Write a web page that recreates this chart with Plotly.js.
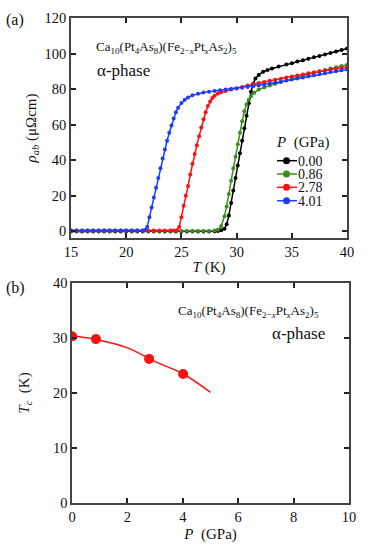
<!DOCTYPE html>
<html>
<head>
<meta charset="utf-8">
<script src="https://cdn.plot.ly/plotly-3.0.1.min.js"></script>
<style>
  body { margin: 0; background: #fff; }
  #plotArea { width: 382px; height: 550px; }
</style>
</head>
<body>
<div id="plotArea"></div>
<script>
// (a) resistivity rho_ab (uOhm cm) vs temperature T (K), four pressures
var pressures = ["0.00", "0.86", "2.78", "4.01"];
var colors = ["#000000", "#3c8c1e", "#ff1010", "#1e3cff"];

var T_000 = [15, 15.5, 16, 16.5, 17, 17.5, 18, 18.5, 19, 19.5, 20, 20.5, 21, 21.5, 22, 22.5, 23, 23.5, 24, 24.5, 25, 25.5, 26, 26.5, 27, 27.5,
  28, 28.3, 28.6, 28.9, 29.1, 29.3, 29.5, 29.7, 29.9, 30.1, 30.3, 30.5, 30.7, 30.9, 31.1, 31.3, 31.5, 31.7, 32, 32.4, 32.8, 33.2, 33.8,
  34.5, 35, 35.5, 36, 36.5, 37, 37.5, 38, 38.5, 39, 39.5, 40];
var rho_000 = [0, 0, 0, 0, 0, 0, 0, 0, 0, 0, 0, 0, 0, 0, 0, 0, 0, 0, 0, 0, 0, 0, 0, 0, 0, 0,
  0.1, 0.3, 0.7, 1.5, 4, 9, 16, 23, 30, 37, 44, 51, 58, 65, 72, 78.5, 83, 86, 88, 89.8, 90.8, 91.6, 92.7,
  93.8, 94.6, 95.5, 96.3, 97.1, 97.9, 98.7, 99.5, 100.3, 101.1, 102, 102.8];

var T_086 = [15, 15.5, 16, 16.5, 17, 17.5, 18, 18.5, 19, 19.5, 20, 20.5, 21, 21.5, 22, 22.5, 23, 23.5, 24, 24.5, 25, 25.5, 26, 26.5, 27, 27.5,
  28, 28.3, 28.6, 28.9, 29.1, 29.3, 29.5, 29.7, 29.9, 30.1, 30.3, 30.5, 30.7, 30.9, 31.1, 31.3, 31.6, 32, 32.5, 33, 33.5, 34, 34.5,
  35, 35.5, 36, 36.5, 37, 37.5, 38, 38.5, 39, 39.5, 40];
var rho_086 = [0.3, 0.3, 0.3, 0.3, 0.3, 0.3, 0.3, 0.3, 0.3, 0.3, 0.3, 0.3, 0.3, 0.3, 0.3, 0.3, 0.3, 0.3, 0.3, 0.3, 0.3, 0.3, 0.3, 0.3, 0.3, 0.3,
  0.5, 1, 3, 8.5, 14, 21, 28.5, 35.5, 42, 49, 55.5, 62, 67.5, 71.5, 74, 76, 78, 79.8, 81, 82, 83, 84, 85,
  86, 86.8, 87.6, 88.4, 89.2, 90, 90.8, 91.6, 92.3, 93, 93.7];

var T_278 = [15, 15.5, 16, 16.5, 17, 17.5, 18, 18.5, 19, 19.5, 20, 20.5, 21, 21.5, 22, 22.5, 23, 23.5, 24, 24.3,
  24.6, 24.8, 25, 25.2, 25.4, 25.6, 25.8, 26, 26.2, 26.4, 26.6, 26.8, 27, 27.2, 27.4, 27.6, 27.8, 28, 28.3, 28.6,
  29, 29.5, 30, 30.5, 31, 31.5, 32, 32.5, 33, 33.5, 34, 34.5, 35, 35.5, 36, 36.5, 37, 37.5, 38, 38.5, 39, 39.5, 40];
var rho_278 = [0.5, 0.5, 0.5, 0.5, 0.5, 0.5, 0.5, 0.5, 0.5, 0.5, 0.5, 0.5, 0.5, 0.5, 0.5, 0.5, 0.5, 0.5, 0.5, 0.5,
  0.7, 2.5, 8, 14.5, 20, 25.5, 32, 38, 43.5, 48.5, 53.5, 58.5, 63, 67, 70.5, 73, 75, 76.3, 77.5, 78.3,
  79, 79.8, 80.5, 81.2, 82, 82.8, 83.5, 84, 84.7, 85.3, 85.9, 86.5, 87.1, 87.7, 88.3, 88.9, 89.5, 90, 90.5, 91, 91.5, 91.9, 92.3];

var T_401 = [15, 15.5, 16, 16.5, 17, 17.5, 18, 18.5, 19, 19.5, 20, 20.5, 21, 21.5,
  21.7, 21.9, 22.1, 22.3, 22.5, 22.7, 22.9, 23.1, 23.3, 23.5, 23.7, 23.9, 24.1, 24.3, 24.5, 24.7, 25, 25.3, 25.6, 26, 26.5,
  27, 27.5, 28, 28.5, 29, 29.5, 30, 30.5, 31, 31.5, 32, 32.5, 33, 33.5, 34, 34.5, 35, 35.5, 36, 36.5, 37, 37.5, 38, 38.5, 39, 39.5, 40];
var rho_401 = [0.5, 0.5, 0.5, 0.5, 0.5, 0.5, 0.5, 0.5, 0.5, 0.5, 0.5, 0.5, 0.5, 0.5,
  0.8, 2.5, 8, 13.5, 19, 24.5, 30, 35.5, 41, 46, 51, 55.5, 59.5, 63.5, 67, 69.5, 72.2, 74, 75.3, 76.5, 77.4,
  78.1, 78.6, 79, 79.4, 79.8, 80.1, 80.4, 80.8, 81.2, 81.6, 82, 82.5, 83, 83.6, 84.2, 84.8, 85.4, 86, 86.6, 87.2, 87.8, 88.4, 89, 89.6, 90.1, 90.6, 91];

// (b) Tc vs pressure
var P_tc = [0, 0.86, 2.78, 4.01];
var Tc = [30.3, 29.8, 26.2, 23.45];
// guide line as drawn in the picture
var P_fit = [0, 1, 2, 3, 4, 5];
var Tc_fit = [30.4, 29.6, 28.2, 25.7, 23.5, 20.1];

var Ts = [T_000, T_086, T_278, T_401];
var rhos = [rho_000, rho_086, rho_278, rho_401];

var data = [];
for (var i = 0; i < 4; i++) {
  data.push({
    x: Ts[i], y: rhos[i],
    type: "scatter", mode: "lines+markers",
    name: pressures[i],
    line: {color: colors[i], width: 1.5},
    marker: {color: colors[i], size: 4},
    showlegend: false,
    xaxis: "x", yaxis: "y"
  });
}
data.push({
  x: P_fit, y: Tc_fit, type: "scatter", mode: "lines",
  line: {color: "#ff1010", width: 1.5, shape: "spline"},
  showlegend: false, xaxis: "x2", yaxis: "y2"
});
data.push({
  x: P_tc, y: Tc, type: "scatter", mode: "markers",
  marker: {color: "#ff1010", size: 10},
  showlegend: false, xaxis: "x2", yaxis: "y2"
});

var serif = "Liberation Serif";
var axisCommon = {
  showline: true, linecolor: "#444", linewidth: 1.5, mirror: "ticks",
  ticks: "inside", ticklen: 5, tickwidth: 1.5, tickcolor: "#222",
  showgrid: false, zeroline: false,
  tickfont: {family: serif, size: 14.5, color: "#111"}
};

var formula = "Ca<sub>10</sub>(Pt<sub>4</sub>As<sub>8</sub>)(Fe<sub>2−<i>x</i></sub>Pt<sub><i>x</i></sub>As<sub>2</sub>)<sub>5</sub>";

// hand-placed legend block (tighter rows than Plotly's own legend allows)
function px2x(px) { return (px - 71) / 278; }
function py2y(py) { return (503 - py) / 485; }
var legRows = [160.7, 174, 187.3, 200.7];
var shapes = [];
var annotations = [
  {text: "<i>P</i>  (GPa)", xref: "paper", yref: "paper", x: px2x(274), y: py2y(142), xanchor: "left", yanchor: "middle",
   showarrow: false, font: {family: serif, size: 15}}
];
for (var k = 0; k < 4; k++) {
  shapes.push({type: "line", xref: "paper", yref: "paper",
    x0: px2x(277), x1: px2x(297), y0: py2y(legRows[k]), y1: py2y(legRows[k]),
    line: {color: colors[k], width: 1.5}});
  shapes.push({type: "circle", xref: "paper", yref: "paper",
    x0: px2x(283), x1: px2x(290), y0: py2y(legRows[k] + 3.5), y1: py2y(legRows[k] - 3.5),
    fillcolor: colors[k], line: {color: colors[k], width: 0}});
  annotations.push({text: pressures[k], xref: "paper", yref: "paper", x: px2x(297), y: py2y(legRows[k]),
    xanchor: "left", yanchor: "middle", height: 12, borderpad: 0,
    showarrow: false, font: {family: serif, size: 14}});
}

annotations.push(
  {text: "(a)", xref: "paper", yref: "paper", x: -0.24, y: py2y(20), xanchor: "left", yanchor: "middle",
   showarrow: false, font: {family: serif, size: 16}},
  {text: "(b)", xref: "paper", yref: "paper", x: -0.24, y: py2y(288), xanchor: "left", yanchor: "middle",
   showarrow: false, font: {family: serif, size: 16}},
  {text: formula, xref: "x", yref: "y", x: 17.1, y: 103.3, xanchor: "left", yanchor: "middle",
   showarrow: false, font: {family: serif, size: 13}},
  {text: "α-phase", xref: "x", yref: "y", x: 17.2, y: 90.4, xanchor: "left", yanchor: "middle",
   showarrow: false, font: {family: serif, size: 17}},
  {text: formula, xref: "x2", yref: "y2", x: 3.75, y: 34.8, xanchor: "left", yanchor: "middle",
   showarrow: false, font: {family: serif, size: 13}},
  {text: "α-phase", xref: "x2", yref: "y2", x: 7.15, y: 30.8, xanchor: "left", yanchor: "middle",
   showarrow: false, font: {family: serif, size: 17}}
);

var layout = {
  width: 382, height: 550,
  margin: {l: 71, r: 33, t: 18, b: 47},
  paper_bgcolor: "#fff", plot_bgcolor: "#fff",
  font: {family: serif, color: "#111"},
  showlegend: false,
  xaxis: Object.assign({}, axisCommon, {
    domain: [0, 0.993], range: [15, 40], tickvals: [15, 20, 25, 30, 35, 40], anchor: "y",
    title: {text: "<i>T</i> (K)", font: {family: serif, size: 15}, standoff: 2}
  }),
  yaxis: Object.assign({}, axisCommon, {
    domain: [0.5464, 1], range: [-3.7, 120], tickvals: [0, 20, 40, 60, 80, 100, 120], anchor: "x",
    title: {text: "<i>ρ<sub>ab</sub></i> (μΩcm)", font: {family: serif, size: 15}, standoff: 4}
  }),
  xaxis2: Object.assign({}, axisCommon, {
    domain: [0.004, 1], range: [0, 10], tickvals: [0, 2, 4, 6, 8, 10], anchor: "y2",
    title: {text: "<i>P</i>  (GPa)", font: {family: serif, size: 15}, standoff: 4}
  }),
  yaxis2: Object.assign({}, axisCommon, {
    domain: [0, 0.4536], range: [0, 40], tickvals: [0, 10, 20, 30, 40], anchor: "x2",
    title: {text: "<i>T<sub>c</sub></i>  (K)", font: {family: serif, size: 15}, standoff: 20}
  }),
  shapes: shapes,
  annotations: annotations
};

Plotly.newPlot("plotArea", data, layout, {displayModeBar: false});
</script>
</body>
</html>
